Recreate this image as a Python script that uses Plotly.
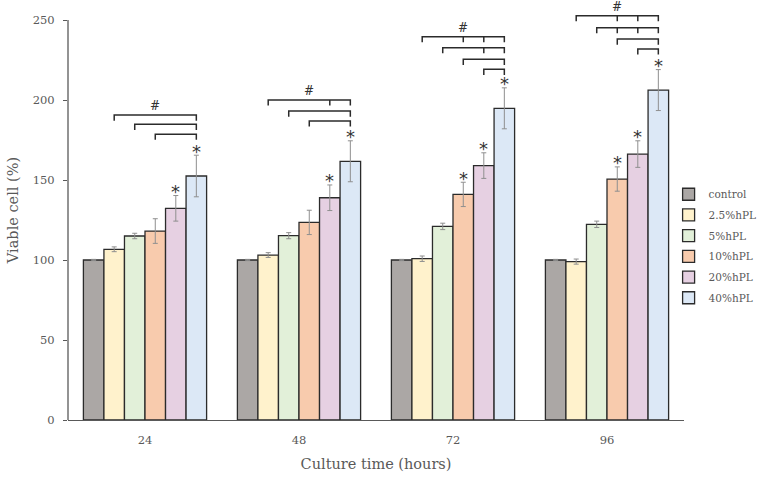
import plotly.graph_objects as go

TIMES = ["24", "48", "72", "96"]
SERIES = ["control", "2.5%hPL", "5%hPL", "10%hPL", "20%hPL", "40%hPL"]
COLORS = ["#ABA7A5", "#FFF2CC", "#E2F0D9", "#F8CBAD", "#E6D0E2", "#DCE8F6"]

control = [100, 100, 100, 100]
hpl_2_5 = [106.7, 103.1, 100.8, 99.0]
hpl_5 = [115.0, 115.2, 121.0, 122.3]
hpl_10 = [118.1, 123.5, 141.0, 150.6]
hpl_20 = [132.3, 138.9, 159.0, 166.2]
hpl_40 = [152.5, 161.7, 194.8, 206.2]

err_control = [0.4, 0.4, 0.4, 0.4]
err_2_5 = [1.5, 1.5, 1.7, 1.6]
err_5 = [1.7, 1.9, 2.0, 2.0]
err_10 = [7.7, 7.6, 7.6, 7.6]
err_20 = [8.0, 8.0, 8.0, 8.3]
err_40 = [13.0, 12.8, 12.8, 12.8]

VALUES = [control, hpl_2_5, hpl_5, hpl_10, hpl_20, hpl_40]
ERRORS = [err_control, err_2_5, err_5, err_10, err_20, err_40]

# significance stars (series index per time group)
STARS = [[4, 5], [4, 5], [3, 4, 5], [3, 4, 5]]

# brackets per group: (left series index, height, [intermediate tick series])
BRACKETS = [
    [(1, 190.6, []), (2, 184.8, []), (3, 178.6, [])],
    [(1, 200.0, [4]), (2, 193.1, []), (3, 186.9, [])],
    [(1, 239.6, [3, 4]), (2, 232.7, [4]), (3, 225.4, []), (4, 219.2, [])],
    [(1, 252.7, [3, 4]), (2, 245.2, [3, 4]), (3, 238.1, []), (4, 231.9, [])],
]

BARGAP = 0.2
NS = len(SERIES)
BW = (1 - BARGAP) / NS
TEXT = "#595959"
FONT = "DejaVu Serif"


def xpos(g, i):
    return g + (i - (NS - 1) / 2) * BW


fig = go.Figure()
for i, name in enumerate(SERIES):
    fig.add_trace(go.Bar(
        x=list(range(len(TIMES))), y=VALUES[i], name=name,
        legendgroup=name,
        marker=dict(color=COLORS[i], line=dict(color="#2b2b2b", width=1.3)),
        error_y=dict(type="data", array=ERRORS[i], color="#8f8f8f", thickness=1, width=2.5),
    ))

shapes = []
annotations = []
TICK = 3.5
for g, brs in enumerate(BRACKETS):
    right = NS - 1
    xr = xpos(g, right)
    for (left, h, mids) in brs:
        xl = xpos(g, left)
        path = f"M {xl},{h - TICK} L {xl},{h} L {xr},{h} L {xr},{h - TICK}"
        for m in mids:
            xm = xpos(g, m)
            path += f" M {xm},{h} L {xm},{h - TICK}"
        shapes.append(dict(type="path", xref="x", yref="y", path=path,
                           line=dict(color="#2b2b2b", width=1.5)))
    top_left, top_h, _ = brs[0]
    annotations.append(dict(x=(xpos(g, top_left) + xr) / 2, y=top_h + 5.5, xref="x", yref="y",
                            text="#", showarrow=False, yanchor="middle", borderpad=0,
                            font=dict(family=FONT, size=12, color="#333333")))
    for i in STARS[g]:
        annotations.append(dict(x=xpos(g, i), y=VALUES[i][g] + ERRORS[i][g] + 2.5,
                                xref="x", yref="y", text="*", showarrow=False,
                                yanchor="middle",
                                font=dict(family="DejaVu Sans", size=18, color="#333333")))

# visible y-axis line from 0 to the top tick
shapes.append(dict(type="line", xref="paper", yref="y", x0=0, x1=0, y0=0, y1=250,
                   line=dict(color="#595959", width=1.3)))

fig.update_layout(
    width=762, height=483,
    margin=dict(l=68, r=78, t=0, b=63),
    paper_bgcolor="white", plot_bgcolor="white",
    barmode="group", bargap=BARGAP, bargroupgap=0,
    font=dict(family=FONT, color=TEXT, size=12),
    shapes=shapes, annotations=annotations,
    showlegend=True,
    legend=dict(x=0.975, xanchor="left", y=0.572, yanchor="top",
                bgcolor="rgba(0,0,0,0)", font=dict(family=FONT, size=10.5, color=TEXT),
                tracegroupgap=1.7, itemclick=False),
    xaxis=dict(range=[-0.5, 3.5], tickvals=list(range(len(TIMES))), ticktext=TIMES,
               showline=True, linecolor="#595959", linewidth=1.3, showgrid=False,
               zeroline=False, ticks="", ticklabelstandoff=9,
               tickfont=dict(family=FONT, size=11.5, color=TEXT),
               title=dict(text="Culture time (hours)", standoff=12,
                          font=dict(family=FONT, size=14.5, color=TEXT))),
    yaxis=dict(range=[0, 262.5], tickvals=[0, 50, 100, 150, 200, 250],
               showline=False, showgrid=False, zeroline=False,
               ticks="outside", ticklen=4, tickcolor="#595959", tickwidth=1.3,
               ticklabelstandoff=6,
               tickfont=dict(family=FONT, size=11.5, color=TEXT),
               title=dict(text="Viable cell (%)", standoff=10,
                          font=dict(family=FONT, size=14.5, color=TEXT))),
)

fig.write_html("out.html",
               config={"displayModeBar": False},
               post_script="document.body.style.margin='0';document.body.style.padding='0';")
